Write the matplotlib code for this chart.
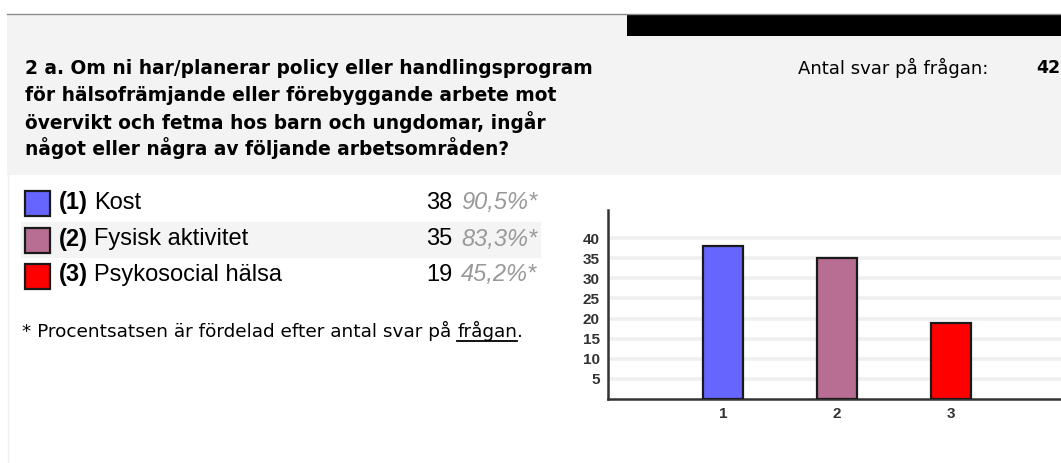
import matplotlib
matplotlib.use("Agg")
import matplotlib.pyplot as plt
from matplotlib.patches import Rectangle
from matplotlib.lines import Line2D

W, H = 1061, 463

# data
question = ["2 a. Om ni har/planerar policy eller handlingsprogram",
            "för hälsofrämjande eller förebyggande arbete mot",
            "övervikt och fetma hos barn och ungdomar, ingår",
            "något eller några av följande arbetsområden?"]
total_answers = 42
codes = ["(1)", "(2)", "(3)"]
categories = ["Kost", "Fysisk aktivitet", "Psykosocial hälsa"]
counts = [38, 35, 19]
percents = ["90,5%*", "83,3%*", "45,2%*"]
x_labels = ["1", "2", "3"]
y_ticks = [5, 10, 15, 20, 25, 30, 35, 40]
colors = ["#6666ff", "#b76e92", "#ff0000"]

SANS = ["Liberation Sans", "DejaVu Sans"]
VERD = ["DejaVu Sans"]
NARROW = ["Liberation Sans Narrow", "DejaVu Sans Condensed", "Liberation Sans", "DejaVu Sans"]


def fx(x):
    return x / W


def fy(y):
    return 1 - y / H


fig = plt.figure(figsize=(W / 100, H / 100), dpi=100)
fig.patch.set_facecolor("white")

# header band
fig.add_artist(Rectangle((fx(7), fy(175)), fx(W - 7), (175 - 14) / H,
                         transform=fig.transFigure, facecolor="#f3f3f3", edgecolor="none"))
fig.add_artist(Rectangle((fx(627), fy(36)), fx(W - 627), 22 / H,
                         transform=fig.transFigure, facecolor="black", edgecolor="none"))
fig.add_artist(Line2D([fx(7), 1], [fy(13.5), fy(13.5)], transform=fig.transFigure,
                      color="#8c8c8c", lw=1))
fig.add_artist(Line2D([fx(7.5), fx(7.5)], [fy(175), 0], transform=fig.transFigure,
                      color="#efefef", lw=1))

for i, line in enumerate(question):
    fig.text(fx(25), fy(69 + i * 26.3), line, family=VERD, weight="bold",
             fontsize=13.4, va="center", ha="left", color="black")

fig.text(fx(988), fy(68), "Antal svar på frågan:", family=VERD, fontsize=13,
         va="center", ha="right", color="black")
fig.text(fx(1036), fy(68), str(total_answers), family=VERD, weight="bold",
         fontsize=12.5, va="center", ha="left", color="black")

# legend rows
fig.add_artist(Rectangle((fx(21), fy(258)), fx(541 - 21), 36 / H,
                         transform=fig.transFigure, facecolor="#f4f4f4", edgecolor="none"))
fig.canvas.draw()
r = fig.canvas.get_renderer()
for i in range(len(categories)):
    yc = 204 + i * 36
    fig.add_artist(Rectangle((fx(25), fy(yc + 12.5)), fx(25), 25 / H,
                             transform=fig.transFigure, facecolor=colors[i],
                             edgecolor="#1a1a1a", lw=1.6))
    t = fig.text(fx(59), fy(yc - 1), codes[i], family=SANS, weight="bold",
                 fontsize=17, va="center", ha="left")
    bb = t.get_window_extent(r)
    fig.text(bb.x1 / W + fx(6), fy(yc - 1), categories[i], family=SANS,
             fontsize=17, va="center", ha="left")
    fig.text(fx(452), fy(yc - 1), str(counts[i]), family=SANS, fontsize=17,
             va="center", ha="right")
    fig.text(fx(461), fy(yc - 1), percents[i], family=SANS, fontsize=17,
             style="italic", color="#999999", va="center", ha="left")

# footnote with underlined word
fs = 13.3
t1 = fig.text(fx(22), fy(337), "* Procentsatsen är fördelad efter antal svar på ",
              family=VERD, fontsize=fs, va="baseline", ha="left")
fig.canvas.draw()
bb1 = t1.get_window_extent(r)
t2 = fig.text(bb1.x1 / W, fy(337), "frågan", family=VERD, fontsize=fs,
              va="baseline", ha="left")
bb2 = t2.get_window_extent(r)
fig.add_artist(Line2D([bb2.x0 / W, bb2.x1 / W], [fy(340.5), fy(340.5)],
                      transform=fig.transFigure, color="black", lw=1.3))
fig.text(bb2.x1 / W, fy(337), ".", family=VERD, fontsize=fs,
         va="baseline", ha="left")

# bar chart
ax = fig.add_axes([fx(608), fy(399), fx(W - 608), (399 - 210) / H])
ax.set_facecolor("white")
xpos = [1, 2, 3]
for yv in y_ticks:
    ax.axhline(yv, color="#efefef", lw=2.6, zorder=0)
ax.bar(xpos, counts, width=0.35, color=colors, edgecolor="#1a1a1a",
       linewidth=1.6, zorder=3)
ax.set_xlim(-0.01, 3.965)
ax.set_ylim(0, 47)
ax.set_xticks(xpos)
ax.set_xticklabels(x_labels)
ax.set_yticks(y_ticks)
ax.set_yticklabels([str(v) for v in y_ticks])
ax.tick_params(length=0, pad=6, labelsize=11, labelcolor="#333333")
ax.tick_params(axis="x", pad=6)
for lab in ax.get_xticklabels() + ax.get_yticklabels():
    lab.set_family(NARROW)
    lab.set_weight("bold")
for s in ["top", "right"]:
    ax.spines[s].set_visible(False)
for s in ["left", "bottom"]:
    ax.spines[s].set_color("#333333")
    ax.spines[s].set_linewidth(1.8)

fig.savefig("out.png", dpi=100)
